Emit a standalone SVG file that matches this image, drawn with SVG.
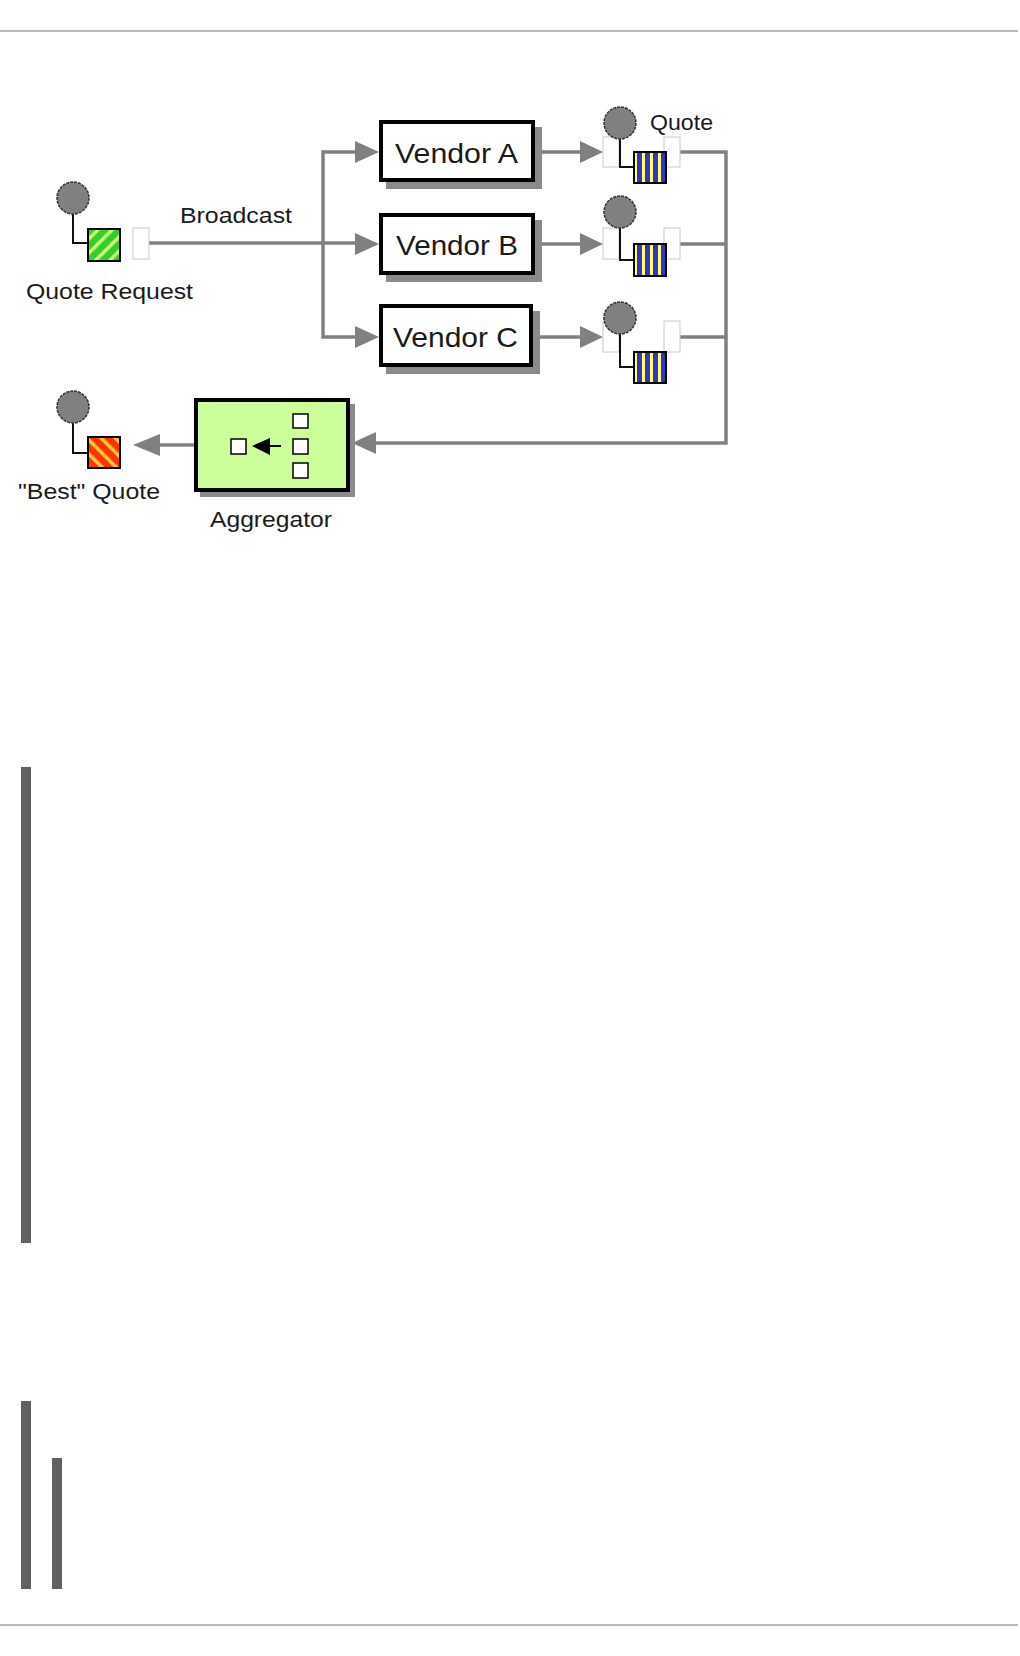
<svg xmlns="http://www.w3.org/2000/svg" width="1020" height="1656" viewBox="0 0 1020 1656">
<style>
.t{font-family:"Liberation Sans",Arial,sans-serif;fill:#1a1a1a}
.s{font-size:22px}
.v{font-size:28px}
.g{stroke:#808080;stroke-width:3.5;fill:none}
.ah{fill:#808080}
.box{fill:#fff;stroke:#000;stroke-width:4}
.sh{fill:#8a8a8a}
.ep{fill:#808080;stroke:#333;stroke-width:1.5;stroke-dasharray:3 1}
.wl{fill:none;stroke:#111;stroke-width:2}
.port{fill:#fff;stroke:#c8c8c8;stroke-width:1}
.bar{fill:#606060}
</style>
<defs>
<pattern id="pq" width="8" height="32" patternUnits="userSpaceOnUse" x="634" y="0">
<rect width="8" height="32" fill="#3333cc"/>
<rect x="0" width="3" height="32" fill="#ffff66"/>
</pattern>
<pattern id="pg" width="10" height="10" patternUnits="userSpaceOnUse" patternTransform="rotate(45)">
<rect width="10" height="10" fill="#33cc33"/>
<rect width="3.5" height="10" fill="#ccff66"/>
</pattern>
<pattern id="pr" width="10" height="10" patternUnits="userSpaceOnUse" patternTransform="rotate(-45)">
<rect width="10" height="10" fill="#ff3300"/>
<rect width="3.5" height="10" fill="#ffcc33"/>
</pattern>
</defs>
<rect width="1020" height="1656" fill="#fff"/>
<rect x="0" y="30" width="1018" height="2" fill="#bbbbbb"/>
<rect x="0" y="1624" width="1018" height="2" fill="#bbbbbb"/>

<g id="connectors">
<polyline class="g" points="149,243 370,243"/>
<polyline class="g" points="370,152 323,152 323,337 370,337"/>
<polygon class="ah" points="355,141 379,152 355,163"/>
<polygon class="ah" points="355,233 379,244 355,255"/>
<polygon class="ah" points="355,326 379,337 355,348"/>
<line class="g" x1="535" y1="152" x2="590" y2="152"/>
<line class="g" x1="535" y1="244" x2="590" y2="244"/>
<line class="g" x1="533" y1="337" x2="590" y2="337"/>
<polygon class="ah" points="580,141 603,152 580,163"/>
<polygon class="ah" points="580,233 603,244 580,255"/>
<polygon class="ah" points="580,326 603,337 580,348"/>
<polyline class="g" points="680,152 726,152 726,443 365,443"/>
<line class="g" x1="680" y1="244" x2="726" y2="244"/>
<line class="g" x1="680" y1="337" x2="726" y2="337"/>
<polygon class="ah" points="376,432 352,443 376,454"/>
<line class="g" x1="194" y1="445" x2="150" y2="445"/>
<polygon class="ah" points="160,434 133,445 160,456"/>
</g>

<g id="quote-request">
<rect class="port" x="133" y="228" width="16" height="31"/>
<polyline class="wl" points="73,214 73,243 88,243"/>
<circle class="ep" cx="73" cy="198" r="16"/>
<rect x="88" y="229" width="32" height="32" fill="url(#pg)" stroke="#000" stroke-width="2"/>
<text class="t s" x="26" y="299" textLength="167" lengthAdjust="spacingAndGlyphs">Quote Request</text>
<text class="t s" x="180" y="223" textLength="112" lengthAdjust="spacingAndGlyphs">Broadcast</text>
</g>

<g id="vendor-a">
<rect class="sh" x="386" y="127" width="156" height="62"/>
<rect class="box" x="381" y="122" width="152" height="58"/>
<text class="t v" x="395" y="163" textLength="123" lengthAdjust="spacingAndGlyphs">Vendor A</text>
</g>
<g id="vendor-b">
<rect class="sh" x="386" y="220" width="156" height="62"/>
<rect class="box" x="381" y="215" width="152" height="58"/>
<text class="t v" x="396" y="255" textLength="122" lengthAdjust="spacingAndGlyphs">Vendor B</text>
</g>
<g id="vendor-c">
<rect class="sh" x="386" y="311" width="154" height="63"/>
<rect class="box" x="381" y="306" width="150" height="59"/>
<text class="t v" x="393" y="347" textLength="125" lengthAdjust="spacingAndGlyphs">Vendor C</text>
</g>

<g id="quote-a">
<rect class="port" x="603" y="137" width="16" height="30"/>
<rect class="port" x="664" y="137" width="16" height="30"/>
<polyline class="wl" points="620,139 620,167 634,167"/>
<circle class="ep" cx="620" cy="123" r="16"/>
<rect x="634" y="152" width="32" height="31" fill="url(#pq)" stroke="#000" stroke-width="2"/>
<text class="t s" x="650" y="130" textLength="63" lengthAdjust="spacingAndGlyphs">Quote</text>
</g>
<g id="quote-b">
<rect class="port" x="603" y="228" width="16" height="31"/>
<rect class="port" x="664" y="228" width="16" height="31"/>
<polyline class="wl" points="620,228 620,260 634,260"/>
<circle class="ep" cx="620" cy="212" r="16"/>
<rect x="634" y="244" width="32" height="32" fill="url(#pq)" stroke="#000" stroke-width="2"/>
</g>
<g id="quote-c">
<rect class="port" x="603" y="322" width="16" height="30"/>
<rect class="port" x="664" y="321" width="16" height="31"/>
<polyline class="wl" points="620,334 620,367 634,367"/>
<circle class="ep" cx="620" cy="318" r="16"/>
<rect x="634" y="352" width="32" height="31" fill="url(#pq)" stroke="#000" stroke-width="2"/>
</g>

<g id="aggregator">
<rect class="sh" x="200" y="404" width="155" height="93"/>
<rect x="196" y="400" width="152" height="90" fill="#ccff99" stroke="#000" stroke-width="4"/>
<rect x="231" y="439" width="15" height="15" fill="#fff" stroke="#000" stroke-width="1.5"/>
<line x1="266" y1="446" x2="281" y2="446" stroke="#000" stroke-width="2"/>
<polygon points="252,446 270,438 270,455" fill="#000"/>
<rect x="293" y="414" width="15" height="14" fill="#fff" stroke="#000" stroke-width="1.5"/>
<rect x="293" y="439" width="15" height="15" fill="#fff" stroke="#000" stroke-width="1.5"/>
<rect x="293" y="463" width="15" height="15" fill="#fff" stroke="#000" stroke-width="1.5"/>
<text class="t s" x="210" y="527" textLength="122" lengthAdjust="spacingAndGlyphs">Aggregator</text>
</g>

<g id="best-quote">
<polyline class="wl" points="73,423 73,453 88,453"/>
<circle class="ep" cx="73" cy="407" r="16"/>
<rect x="88" y="437" width="32" height="31" fill="url(#pr)" stroke="#000" stroke-width="2"/>
<text class="t s" x="18" y="499" textLength="142" lengthAdjust="spacingAndGlyphs">"Best" Quote</text>
</g>

<rect class="bar" x="21" y="767" width="10" height="476"/>
<rect class="bar" x="21" y="1401" width="10" height="188"/>
<rect class="bar" x="52" y="1458" width="10" height="131"/>
</svg>
